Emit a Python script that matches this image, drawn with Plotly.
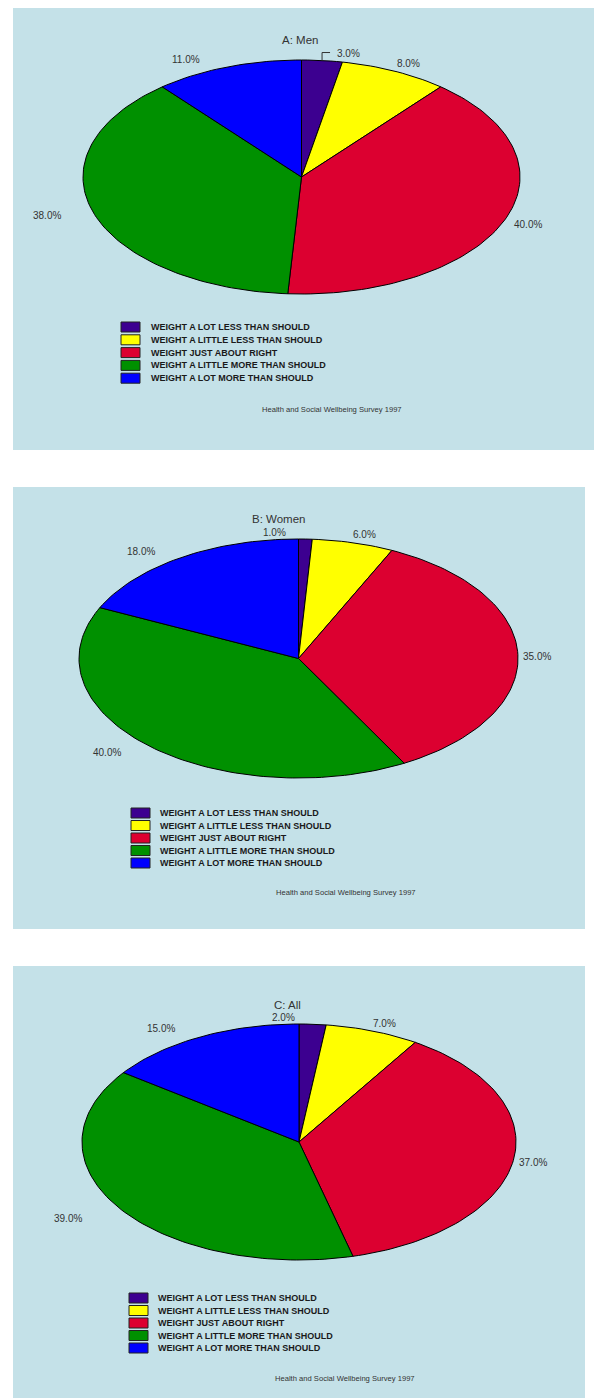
import numpy as np
import plotly.graph_objects as go

# ---- data -------------------------------------------------------------
categories = [
    "WEIGHT A LOT LESS THAN SHOULD",
    "WEIGHT A LITTLE LESS THAN SHOULD",
    "WEIGHT JUST ABOUT RIGHT",
    "WEIGHT A LITTLE MORE THAN SHOULD",
    "WEIGHT A LOT MORE THAN SHOULD",
]
panel_titles = ["A: Men", "B: Women", "C: All"]
men_pct = [3.0, 8.0, 40.0, 38.0, 11.0]
women_pct = [1.0, 6.0, 35.0, 40.0, 18.0]
all_pct = [2.0, 7.0, 37.0, 39.0, 15.0]
source_note = "Health and Social Wellbeing Survey 1997"

series = [men_pct, women_pct, all_pct]

# ---- styling / layout (pixels) ----------------------------------------
W, H = 594, 1398
BG = "#c4e1e8"
FONT = "Liberation Sans, Arial, sans-serif"
TXT = "#333333"
slice_colors = ["#3c0090", "#ffff00", "#dc0030", "#009000", "#0000ff"]

panel_layout = [
    dict(box=(13, 8, 594, 450), pie=(83, 60, 520, 294), title_xy=(300, 40),
         label_shift=[(26, -7.5), (13.5, -8), (23, 4), (-47, 2), (-41.5, -7)],
         leader=[0], legend_xy=(121, 327), legend_text_x=149, legend_step=12.8,
         source_xy=(260, 409)),
    dict(box=(13, 487, 585, 929), pie=(79, 539, 518, 778), title_xy=(278, 519),
         label_shift=[(-30.5, -7), (11, -8), (19, 2), (-41, 7), (-40, -6.6)],
         leader=[], legend_xy=(131, 813), legend_text_x=158, legend_step=12.5,
         source_xy=(274, 893)),
    dict(box=(13, 966, 585, 1398), pie=(82, 1024, 516, 1260), title_xy=(287, 1005),
         label_shift=[(-29.6, -7), (11.5, -7), (20, 2.5), (-51.5, 10), (-39.5, -8)],
         leader=[], legend_xy=(129, 1298), legend_text_x=156, legend_step=12.5,
         source_xy=(273, 1378)),
]


def px_x(x):
    return x / W


def px_y(y):
    return 1 - y / H


fig = go.Figure()
annotations = []
shapes = []
layout_axes = {}

for i, (vals, title, spec) in enumerate(zip(series, panel_titles, panel_layout)):
    sfx = "" if i == 0 else str(i + 1)
    xref, yref = "x" + sfx, "y" + sfx

    bx0, by0, bx1, by1 = spec["box"]
    ex0, ey0, ex1, ey1 = spec["pie"]
    rx, ry = (ex1 - ex0) / 2, (ey1 - ey0) / 2
    cx, cy = (ex0 + ex1) / 2, (ey0 + ey1) / 2

    # axis ranges map the unit circle onto the elliptical pie area
    layout_axes["xaxis" + sfx] = dict(
        domain=[px_x(bx0), px_x(bx1)], range=[(bx0 - cx) / rx, (bx1 - cx) / rx],
        visible=False, fixedrange=True, anchor=yref)
    layout_axes["yaxis" + sfx] = dict(
        domain=[px_y(by1), px_y(by0)], range=[(cy - by1) / ry, (cy - by0) / ry],
        visible=False, fixedrange=True, anchor=xref)

    total = sum(vals)
    cum = np.concatenate([[0], np.cumsum(vals)]) / total
    for k, v in enumerate(vals):
        t = np.linspace(cum[k], cum[k + 1], max(int(240 * (cum[k + 1] - cum[k])), 2) + 1)
        ang = 2 * np.pi * t
        xs = np.concatenate([[0], np.sin(ang), [0]])
        ys = np.concatenate([[0], np.cos(ang), [0]])
        fig.add_trace(go.Scatter(
            x=xs, y=ys, mode="lines", fill="toself",
            fillcolor=slice_colors[k], line=dict(color="#000000", width=1),
            xaxis=xref, yaxis=yref, hoverinfo="skip", showlegend=False,
            name=categories[k]))

        mid = 2 * np.pi * (cum[k] + cum[k + 1]) / 2
        mx, my = np.sin(mid), np.cos(mid)
        dx, dy = spec["label_shift"][k]
        annotations.append(dict(
            x=mx, y=my, xref=xref, yref=yref, text=f"{v:.1f}%",
            xshift=dx, yshift=-dy, showarrow=False,
            xanchor="center", yanchor="middle",
            font=dict(family=FONT, size=10, color=TXT)))
        if k in spec["leader"]:
            fig.add_trace(go.Scatter(
                x=[mx, mx, mx + 8 / rx], y=[my, my + 8 / ry, my + 8 / ry],
                mode="lines", line=dict(color="#333333", width=1),
                xaxis=xref, yaxis=yref, hoverinfo="skip", showlegend=False))

    # panel title
    tx, ty = spec["title_xy"]
    annotations.append(dict(
        x=px_x(tx), y=px_y(ty), xref="paper", yref="paper", text=title,
        showarrow=False, xanchor="center", yanchor="middle",
        font=dict(family=FONT, size=11.5, color=TXT)))

    # legend
    lx, ly = spec["legend_xy"]
    for k, cat in enumerate(categories):
        yc = ly + k * spec["legend_step"]
        shapes.append(dict(
            type="rect", xref="paper", yref="paper",
            x0=px_x(lx), x1=px_x(lx + 19), y0=px_y(yc + 5), y1=px_y(yc - 5),
            fillcolor=slice_colors[k], line=dict(color="#222222", width=1)))
        annotations.append(dict(
            x=px_x(spec["legend_text_x"]), y=px_y(yc), xref="paper", yref="paper",
            text=f"<b>{cat}</b>", showarrow=False, xanchor="left", yanchor="middle",
            font=dict(family=FONT, size=9, color="#1a1a1a")))

    # source note
    sx, sy = spec["source_xy"]
    annotations.append(dict(
        x=px_x(sx), y=px_y(sy), xref="paper", yref="paper", text=source_note,
        showarrow=False, xanchor="left", yanchor="middle",
        font=dict(family=FONT, size=7.6, color=TXT)))

fig.update_layout(
    width=W, height=H,
    margin=dict(l=0, r=0, t=0, b=0),
    paper_bgcolor="#ffffff",
    plot_bgcolor=BG,
    showlegend=False,
    annotations=annotations,
    shapes=shapes,
    **layout_axes,
)

fig.write_html("out.html", config=dict(displayModeBar=False))
